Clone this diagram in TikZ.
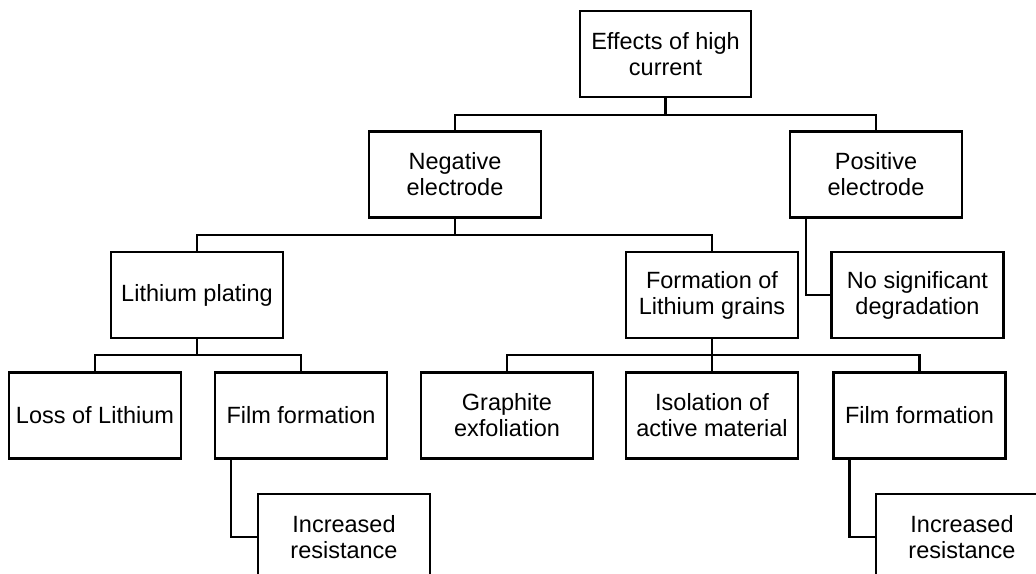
\documentclass[tikz,border=0pt]{standalone}
\usepackage{fontspec}
\setmainfont{Liberation Sans}
\begin{document}
\begin{tikzpicture}[x=1pt,y=-1pt,
  box/.style={draw=black, line width=2.2pt, rectangle, minimum width=172pt,
    minimum height=86pt, inner sep=0pt, align=center,
    font=\fontsize{23.5}{26}\selectfont},
  link/.style={draw=black, line width=2.2pt}]
\useasboundingbox (0,0) rectangle (1036,573);
\clip (0,0) rectangle (1036,573);

% tree boxes
\node[box, minimum width=171pt] (root) at (665.5,54) {Effects of high\\current};
\node[box] (neg) at (455,174.5) {Negative\\electrode};
\node[box] (pos) at (876,174.5) {Positive\\electrode};
\node[box] (lp) at (197,295) {Lithium plating};
\node[box] (flg) at (712,295) {Formation of\\Lithium grains};
\node[box] (nsd) at (917.5,295) {No significant\\degradation};
\node[box] (loss) at (95,415.5) {Loss of Lithium};
\node[box] (filmA) at (301,415.5) {Film formation};
\node[box] (graph) at (507,415.5) {Graphite\\exfoliation};
\node[box] (iso) at (712,415.5) {Isolation of\\active material};
\node[box] (filmB) at (919.5,415.5) {Film formation};
\node[box] (incA) at (344,537) {Increased\\resistance};
\node[box] (incB) at (962,537) {Increased\\resistance};

% junction points of the bus lines
\coordinate (j0) at (665.5,115);
\coordinate (j1) at (455,235);
\coordinate (j2) at (197,355);
\coordinate (j3) at (712,355);

% connectors
\draw[link] (root.south) -- (j0);
\draw[link] (j0) -| (neg.north);
\draw[link] (j0) -| (pos.north);

\draw[link] (neg.south) -- (j1);
\draw[link] (j1) -| (lp.north);
\draw[link] (j1) -| (flg.north);

\draw[link] ([xshift=17pt]pos.south west) |- (nsd.west);

\draw[link] (lp.south) -- (j2);
\draw[link] (j2) -| (loss.north);
\draw[link] (j2) -| (filmA.north);

\draw[link] (flg.south) -- (j3);
\draw[link] (j3) -| (graph.north);
\draw[link] (j3) -| (iso.north);
\draw[link] (j3) -| (filmB.north);

\draw[link] ([xshift=17pt]filmA.south west) |- (incA.west);
\draw[link] ([xshift=17pt]filmB.south west) |- (incB.west);
\end{tikzpicture}
\end{document}
